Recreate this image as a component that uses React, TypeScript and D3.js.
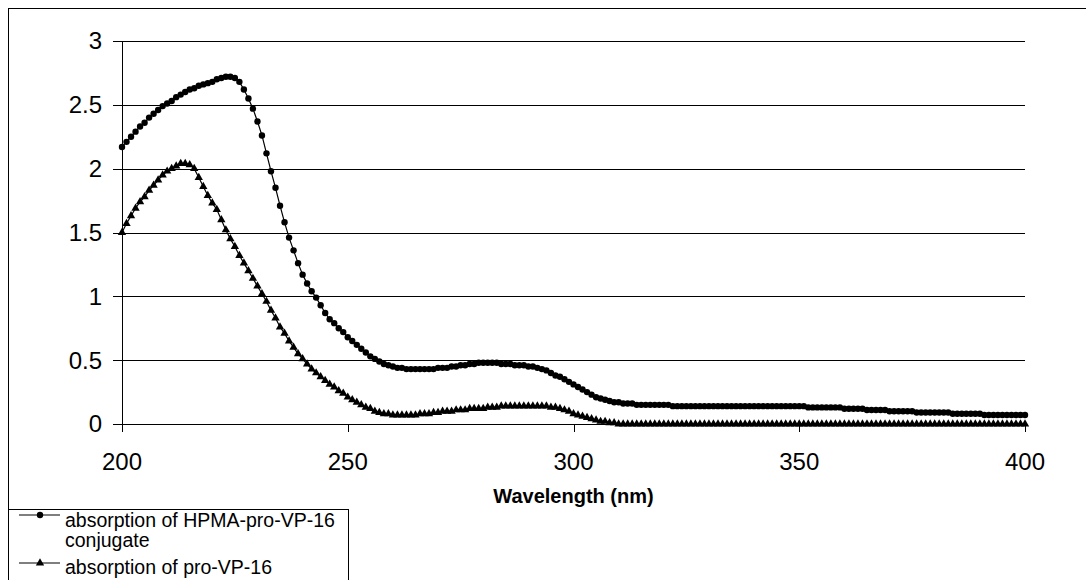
import React from "react";
import * as d3 from "d3";

// wavelength grid (nm), one reading per nm
const wavelengths = d3.range(200, 401, 1);

// absorption of HPMA-pro-VP-16 conjugate, 200..400 nm
const hpmaConjugate = [
  2.17, 2.21, 2.25, 2.29, 2.33, 2.36, 2.40, 2.43, 2.46, 2.49,
  2.51, 2.53, 2.56, 2.58, 2.60, 2.62, 2.63, 2.65, 2.66, 2.67,
  2.68, 2.70, 2.71, 2.72, 2.72, 2.71, 2.68, 2.62, 2.55, 2.47,
  2.37, 2.26, 2.12, 1.98, 1.85, 1.71, 1.58, 1.46, 1.36, 1.26,
  1.17, 1.10, 1.04, 0.99, 0.93, 0.87, 0.82, 0.79, 0.75, 0.72,
  0.68, 0.65, 0.62, 0.59, 0.56, 0.53, 0.51, 0.49, 0.47, 0.46,
  0.45, 0.44, 0.44, 0.43, 0.43, 0.43, 0.43, 0.43, 0.43, 0.43,
  0.44, 0.44, 0.44, 0.45, 0.45, 0.46, 0.46, 0.47, 0.47, 0.48,
  0.48, 0.48, 0.48, 0.48, 0.47, 0.47, 0.47, 0.46, 0.46, 0.46,
  0.45, 0.45, 0.44, 0.43, 0.42, 0.40, 0.38, 0.37, 0.35, 0.33,
  0.31, 0.29, 0.27, 0.25, 0.23, 0.21, 0.20, 0.19, 0.18, 0.17,
  0.17, 0.16, 0.16, 0.16, 0.15, 0.15, 0.15, 0.15, 0.15, 0.15,
  0.15, 0.15, 0.14, 0.14, 0.14, 0.14, 0.14, 0.14, 0.14, 0.14,
  0.14, 0.14, 0.14, 0.14, 0.14, 0.14, 0.14, 0.14, 0.14, 0.14,
  0.14, 0.14, 0.14, 0.14, 0.14, 0.14, 0.14, 0.14, 0.14, 0.14,
  0.14, 0.14, 0.13, 0.13, 0.13, 0.13, 0.13, 0.13, 0.13, 0.13,
  0.12, 0.12, 0.12, 0.12, 0.12, 0.11, 0.11, 0.11, 0.11, 0.11,
  0.10, 0.10, 0.10, 0.10, 0.10, 0.10, 0.09, 0.09, 0.09, 0.09,
  0.09, 0.09, 0.09, 0.09, 0.08, 0.08, 0.08, 0.08, 0.08, 0.08,
  0.08, 0.07, 0.07, 0.07, 0.07, 0.07, 0.07, 0.07, 0.07, 0.07,
  0.07,
];

// absorption of pro-VP-16, 200..400 nm
const proVP16 = [
  1.50, 1.57, 1.63, 1.69, 1.74, 1.78, 1.83, 1.87, 1.91, 1.95,
  1.98, 2.00, 2.02, 2.04, 2.04, 2.03, 2.00, 1.93, 1.86, 1.79,
  1.73, 1.68, 1.60, 1.52, 1.45, 1.39, 1.32, 1.26, 1.20, 1.14,
  1.08, 1.02, 0.96, 0.89, 0.83, 0.76, 0.71, 0.65, 0.60, 0.55,
  0.51, 0.47, 0.43, 0.40, 0.37, 0.34, 0.31, 0.29, 0.26, 0.24,
  0.21, 0.19, 0.17, 0.15, 0.13, 0.12, 0.10, 0.09, 0.08, 0.08,
  0.07, 0.07, 0.07, 0.07, 0.07, 0.07, 0.08, 0.08, 0.08, 0.09,
  0.09, 0.10, 0.10, 0.10, 0.11, 0.11, 0.11, 0.12, 0.12, 0.12,
  0.12, 0.13, 0.13, 0.13, 0.14, 0.14, 0.14, 0.14, 0.14, 0.14,
  0.14, 0.14, 0.14, 0.14, 0.14, 0.13, 0.13, 0.12, 0.11, 0.10,
  0.08, 0.07, 0.06, 0.05, 0.04, 0.03, 0.02, 0.02, 0.01, 0.01,
  0, 0, 0, 0, 0, 0, 0, 0, 0, 0,
  0, 0, 0, 0, 0, 0, 0, 0, 0, 0,
  0, 0, 0, 0, 0, 0, 0, 0, 0, 0,
  0, 0, 0, 0, 0, 0, 0, 0, 0, 0,
  0, 0, 0, 0, 0, 0, 0, 0, 0, 0,
  0, 0, 0, 0, 0, 0, 0, 0, 0, 0,
  0, 0, 0, 0, 0, 0, 0, 0, 0, 0,
  0, 0, 0, 0, 0, 0, 0, 0, 0, 0,
  0, 0, 0, 0, 0, 0, 0, 0, 0, 0,
  0,
];

const xTicks = [200, 250, 300, 350, 400];
const yTicks = [0, 0.5, 1, 1.5, 2, 2.5, 3];
const seriesNames = ["absorption of HPMA-pro-VP-16", "conjugate", "absorption of pro-VP-16"];

const W = 1086;
const H = 580;
const plot = { left: 122, right: 1025, top: 41, bottom: 424 };
const font = "'Liberation Sans', Arial, sans-serif";

const crisp = (v: number) => Math.round(v) + 0.5;

const App = () => {
  const x = d3.scaleLinear().domain([200, 400]).range([plot.left, plot.right]);
  const y = d3.scaleLinear().domain([0, 3]).range([plot.bottom, plot.top]);

  const line = d3
    .line<number>()
    .x((d, i) => x(wavelengths[i]))
    .y((d) => y(d));

  const tri = d3.symbol().type(d3.symbolTriangle).size(30)();

  return (
    <svg
      width={W}
      height={H}
      style={{ position: "absolute", left: 0, top: 0, background: "#fff" }}
    >
      {/* outer chart border, runs off the right and bottom */}
      <rect x={8.5} y={8.5} width={1200} height={1200} fill="none" stroke="#000" />

      {/* gridlines + y ticks */}
      {yTicks.map((t) => (
        <g key={t}>
          <line x1={113} x2={plot.right} y1={crisp(y(t))} y2={crisp(y(t))} stroke="#000" />
          <text
            x={102}
            y={y(t)}
            dy="0.35em"
            textAnchor="end"
            fontFamily={font}
            fontSize={24}
          >
            {t}
          </text>
        </g>
      ))}

      {/* y axis */}
      <line x1={crisp(plot.left)} x2={crisp(plot.left)} y1={plot.top} y2={plot.bottom + 1} stroke="#000" />

      {/* x ticks */}
      {xTicks.map((t) => (
        <g key={t}>
          <line
            x1={crisp(x(t))}
            x2={crisp(x(t))}
            y1={plot.bottom}
            y2={plot.bottom + 8}
            stroke="#000"
          />
          <text x={x(t)} y={470} textAnchor="middle" fontFamily={font} fontSize={24}>
            {t}
          </text>
        </g>
      ))}

      <text
        x={(plot.left + plot.right) / 2}
        y={503}
        textAnchor="middle"
        fontFamily={font}
        fontSize={20}
        fontWeight="bold"
      >
        Wavelength (nm)
      </text>

      {/* HPMA conjugate series */}
      <path d={line(hpmaConjugate) || ""} fill="none" stroke="#000" strokeWidth={1.2} />
      {hpmaConjugate.map((d, i) => (
        <circle key={i} cx={x(wavelengths[i])} cy={y(d)} r={3.2} fill="#000" />
      ))}

      {/* pro-VP-16 series */}
      <path d={line(proVP16) || ""} fill="none" stroke="#000" strokeWidth={1.2} />
      {proVP16.map((d, i) => (
        <path
          key={i}
          d={tri || ""}
          transform={`translate(${x(wavelengths[i])},${y(d)})`}
          fill="#000"
        />
      ))}

      {/* legend */}
      <rect x={8.5} y={509.5} width={340} height={200} fill="none" stroke="#000" />
      <line x1={19} x2={60} y1={515} y2={515} stroke="#000" strokeWidth={1.2} />
      <circle cx={40} cy={515} r={3.2} fill="#000" />
      <text x={65} y={527} fontFamily={font} fontSize={19.5}>
        {seriesNames[0]}
      </text>
      <text x={65} y={547} fontFamily={font} fontSize={19.5}>
        {seriesNames[1]}
      </text>
      <line x1={19} x2={60} y1={563} y2={563} stroke="#000" strokeWidth={1.2} />
      <path d={tri || ""} transform="translate(40,563)" fill="#000" />
      <text x={65} y={574} fontFamily={font} fontSize={19.5}>
        {seriesNames[2]}
      </text>
    </svg>
  );
};

export default App;
